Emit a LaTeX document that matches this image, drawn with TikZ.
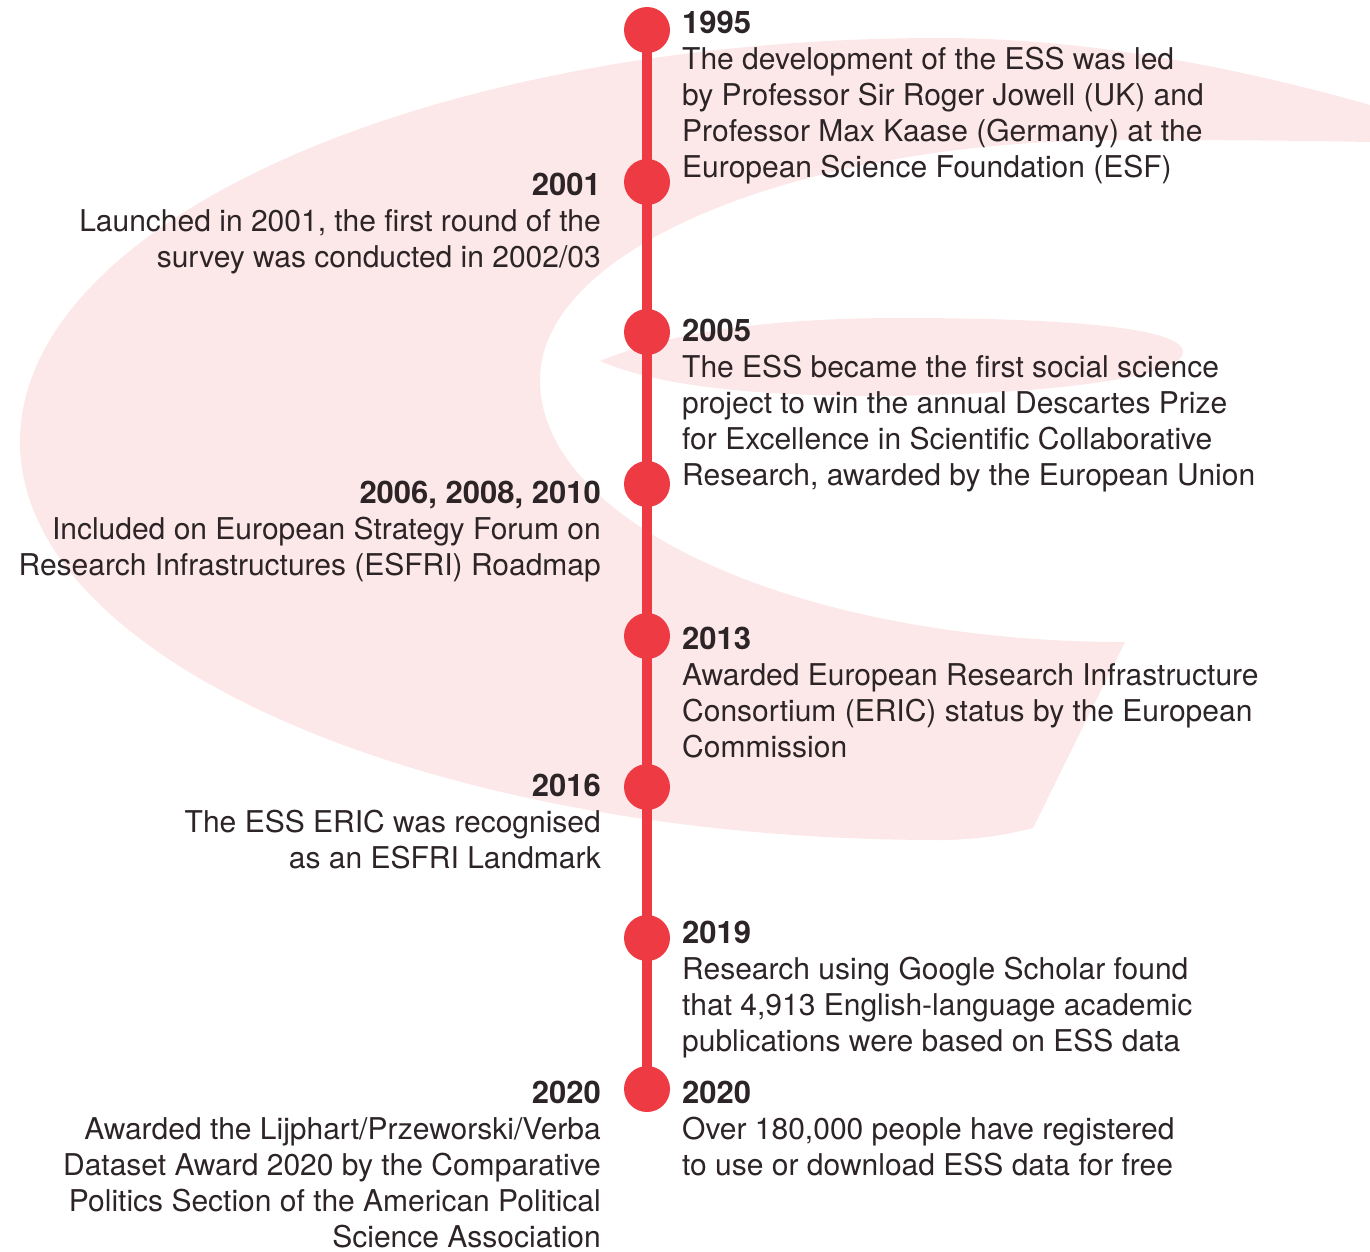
\documentclass[tikz,border=0pt]{standalone}
\usepackage{fontspec}
\setmainfont{TeX Gyre Heros}
\definecolor{essred}{HTML}{EE3A43}
\definecolor{esspink}{HTML}{FDE8E9}
\definecolor{esstext}{HTML}{2C2426}
\newcommand{\tlblock}[6]{%
  \node[yr, anchor=base #2] (#1) at (#3,#4) {#5};
  \foreach \ln [count=\i] in {#6}
    \node[txt, anchor=base #2] (#1-\i) at (#3,{#4+36*\i}) {\ln};
}
\begin{document}
\begin{tikzpicture}[x=1pt,y=-1pt,
  txt/.style={font=\fontsize{30}{36}\selectfont, text=esstext, inner sep=0pt},
  yr/.style={txt, font=\fontsize{31}{36}\selectfont\bfseries},
  dot/.style={circle, fill=essred, minimum size=46pt, inner sep=0pt},
  spine/.style={draw=essred, line width=10pt}]
\useasboundingbox (0,0) rectangle (1370,1251);
% background swoosh
\fill[esspink] (1370,105) .. controls (1230,65) and (1080,38) .. (940,38)
  .. controls (432,38) and (20,220) .. (20,442)
  .. controls (20,662) and (432,840) .. (940,840)
  .. controls (975,840) and (1005,835) .. (1033,828)
  -- (1125,642)
  .. controls (802,642) and (540,525) .. (540,380)
  .. controls (540,247) and (802,140) .. (1125,140)
  .. controls (1250,140) and (1320,141) .. (1370,142) -- cycle;
\fill[esspink] (600,361) .. controls (680,328) and (790,318) .. (900,318)
  .. controls (1040,318) and (1183,325) .. (1183,352)
  .. controls (1183,378) and (1040,395) .. (880,396)
  .. controls (760,396) and (660,387) .. (600,361) -- cycle;
% timeline
\node[dot] (d1) at (647,30) {};
\node[dot] (d2) at (647,182) {};
\node[dot] (d3) at (647,332) {};
\node[dot] (d4) at (647,484) {};
\node[dot] (d5) at (647,636) {};
\node[dot] (d6) at (647,787) {};
\node[dot] (d7) at (647,938) {};
\node[dot] (d8) at (647,1089) {};
\draw[spine] (d1.center) -- (d8.center);
% texts
\tlblock{t1995}{west}{682}{33}{1995}{{The development of the ESS was led},{by Professor Sir Roger Jowell (UK) and},{Professor Max Kaase (Germany) at the},{European Science Foundation (ESF)}}
\tlblock{t2001}{east}{601}{195}{2001}{{Launched in 2001, the first round of the},{survey was conducted in 2002/03}}
\tlblock{t2005}{west}{682}{341}{2005}{{The ESS became the first social science},{project to win the annual Descartes Prize},{for Excellence in Scientific Collaborative},{Research, awarded by the European Union}}
\tlblock{t2006}{east}{601}{503}{2006, 2008, 2010}{{Included on European Strategy Forum on},{Research Infrastructures (ESFRI) Roadmap}}
\tlblock{t2013}{west}{682}{649}{2013}{{Awarded European Research Infrastructure},{Consortium (ERIC) status by the European},{Commission}}
\tlblock{t2016}{east}{601}{796}{2016}{{The ESS ERIC was recognised},{as an ESFRI Landmark}}
\tlblock{t2019}{west}{682}{943}{2019}{{Research using Google Scholar found},{that 4,913 English-language academic},{publications were based on ESS data}}
\tlblock{t2020l}{east}{601}{1103}{2020}{{Awarded the Lijphart/Przeworski/Verba},{Dataset Award 2020 by the Comparative},{Politics Section of the American Political},{Science Association}}
\tlblock{t2020r}{west}{682}{1103}{2020}{{Over 180,000 people have registered},{to use or download ESS data for free}}
\end{tikzpicture}
\end{document}
